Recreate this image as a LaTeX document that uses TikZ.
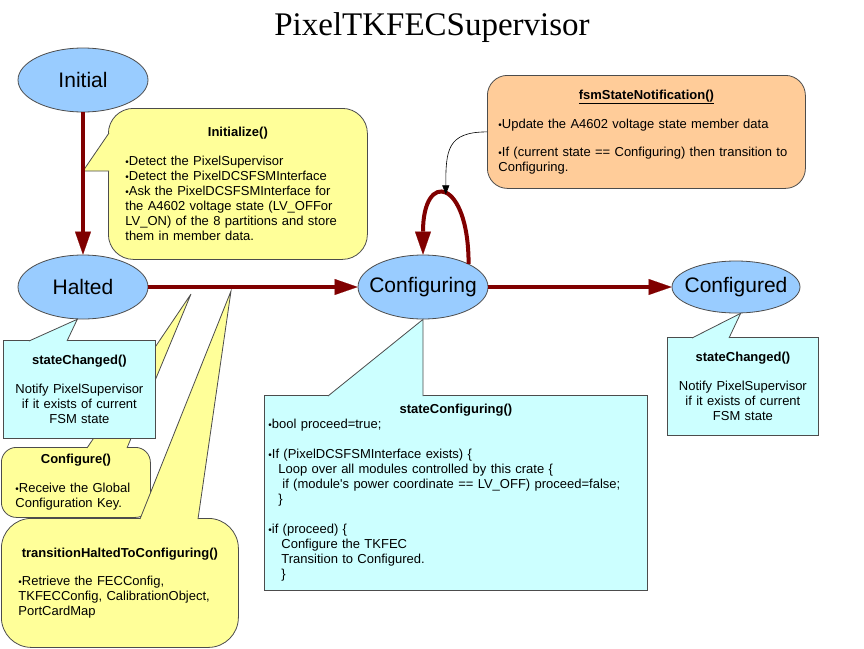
\documentclass[tikz,border=0pt]{standalone}
\usepackage{fontspec}
\setmainfont{Liberation Sans}
\newfontfamily\titlefont{Liberation Serif}
\usetikzlibrary{arrows.meta, shapes.geometric, calc, positioning}

\definecolor{stateblue}{HTML}{99CCFF}
\definecolor{arrowred}{HTML}{800000}
\definecolor{noteyellow}{HTML}{FFFF99}
\definecolor{notecyan}{HTML}{CCFFFF}
\definecolor{noteorange}{HTML}{FFCC99}

\newcommand{\bul}{{\fontsize{10}{10}\selectfont\textbullet}}
\newcommand{\boxhead}[1]{{\centering\textbf{#1}\par}}

\begin{document}
\begin{tikzpicture}[
        x = 1pt, y = -1pt, % pixel grid, y pointing down
        state/.style = {ellipse, draw=black!70, line width=0.8pt, fill=stateblue,
            minimum width=130pt, minimum height=64pt, inner xsep=-12pt,
            font=\fontsize{21}{24}\selectfont},
        tedge/.style = {arrowred, draw, line width=4pt,
            -{Triangle[length=23pt, width=16pt, line width=0.1pt]}},
        callbox/.style = {draw=black!70, line width=0.8pt, inner sep=0pt,
            anchor=north west, align=left,
            font=\fontsize{13}{15}\selectfont},
        tail/.style = {draw=black!70, line width=0.8pt}
    ]
    \useasboundingbox (0,0) rectangle (864,648);

    \node[font=\titlefont\fontsize{33}{36}\selectfont] (title) at (432,28) {PixelTKFECSupervisor};

    % states
    \node[state] (initial) at (83,80) {Initial};
    \node[state] (halted) at (83,287) {Halted};
    \node[state] (configuring) at (423,287) {Configuring};
    \node[state, minimum width=128pt, minimum height=52pt] (configured) at (736,287) {Configured};

    % notes hanging off the Halted -> Configuring transition
    \node[callbox, fill=noteyellow, rounded corners=15pt, minimum width=149pt,
        minimum height=70pt, text width=121pt] (configure) at (1,447)
        {\boxhead{Configure()}\vspace{14pt}
         \bul Receive the Global\\ Configuration Key.};
    \filldraw[tail, fill=noteyellow] ($(configure.north west)+(86,1)$)
        -- ($(configure.north west)+(190,-153)$) -- ($(configure.north west)+(126,1)$);

    \node[callbox, fill=noteyellow, rounded corners=30pt, minimum width=237pt,
        minimum height=129pt, text width=203pt] (trans) at (1,518)
        {\boxhead{transitionHaltedToConfiguring()}\vspace{13pt}
         \bul Retrieve the FECConfig,\\ TKFECConfig, CalibrationObject,\\ PortCardMap};
    \filldraw[tail, fill=noteyellow] ($(trans.north west)+(139,1)$)
        -- ($(trans.north west)+(230,-227)$) -- ($(trans.north west)+(197,1)$);

    \node[callbox, align=center, fill=notecyan, minimum width=152pt,
        minimum height=98pt, text width=150pt] (haltchg) at (3,340)
        {\textbf{stateChanged()}\\[14pt] Notify PixelSupervisor\\ if it exists of current\\ FSM state};
    \filldraw[tail, fill=notecyan] ($(haltchg.north west)+(26,1)$)
        -- (halted.260) -- ($(haltchg.north west)+(64,1)$);

    % note on Initial -> Halted
    \node[callbox, fill=noteyellow, rounded corners=25pt, minimum width=259pt,
        minimum height=151pt, text width=225pt] (init) at (108,108)
        {\boxhead{Initialize()}\vspace{14pt}
         \bul Detect the PixelSupervisor\\
         \bul Detect the PixelDCSFSMInterface\\
         \bul Ask the PixelDCSFSMInterface for\\
         the A4602 voltage state (LV\_OFFor\\
         LV\_ON) of the 8 partitions and store\\
         them in member data.};
    \filldraw[tail, fill=noteyellow] ($(init.north west)+(1,25)$)
        -- ($(init.north west)+(-25,63)$) -- ($(init.north west)+(1,63)$);

    % notes on Configuring and Configured
    \node[callbox, fill=noteorange, rounded corners=20pt, minimum width=318pt,
        minimum height=113pt, text width=296pt] (fsm) at (487,75)
        {\boxhead{\underline{fsmStateNotification()}}\vspace{14pt}
         \bul Update the A4602 voltage state member data\\[13pt]
         \bul If (current state == Configuring) then transition to\\
         Configuring.};

    \node[callbox, fill=notecyan, minimum width=383pt, minimum height=195pt,
        text width=375pt] (confchg) at (264,395)
        {\boxhead{stateConfiguring()}
         \bul bool proceed=true;\\[15pt]
         \bul If (PixelDCSFSMInterface exists) \{\\
         \hspace*{10pt}Loop over all modules controlled by this crate \{\\
         \hspace*{14pt}if (module\textquotesingle s power coordinate == LV\_OFF) proceed=false;\\
         \hspace*{10pt}\}\\[15pt]
         \bul if (proceed) \{\\
         \hspace*{13pt}Configure the TKFEC\\
         \hspace*{13pt}Transition to Configured.\\
         \hspace*{13pt}\}};
    \filldraw[tail, fill=notecyan] ($(confchg.north west)+(64,1)$)
        -- (configuring.south) -- ($(confchg.north west)+(159,1)$);

    \node[callbox, align=center, fill=notecyan, minimum width=151pt,
        minimum height=98pt, text width=149pt] (confdchg) at (667,337)
        {\textbf{stateChanged()}\\[14pt] Notify PixelSupervisor\\ if it exists of current\\ FSM state};
    \filldraw[tail, fill=notecyan] ($(confdchg.north west)+(25,1)$)
        -- (configured.280) -- ($(confdchg.north west)+(62,1)$);

    % transitions
    \path[tedge] (initial) edge (halted)
                 (halted) edge (configuring)
                 (configuring) edge (configured);
    \draw[tedge] (configuring.27) .. controls +(0,-85) and +(0,-85) .. (configuring.north)
        coordinate[pos=0.5] (looptop);
    \draw[black, line width=0.6pt, shorten >=1pt, -{Triangle[length=9pt, width=7pt]}]
        (fsm.west) .. controls +(-40,0) and +(0,-45) .. (looptop);
\end{tikzpicture}
\end{document}
